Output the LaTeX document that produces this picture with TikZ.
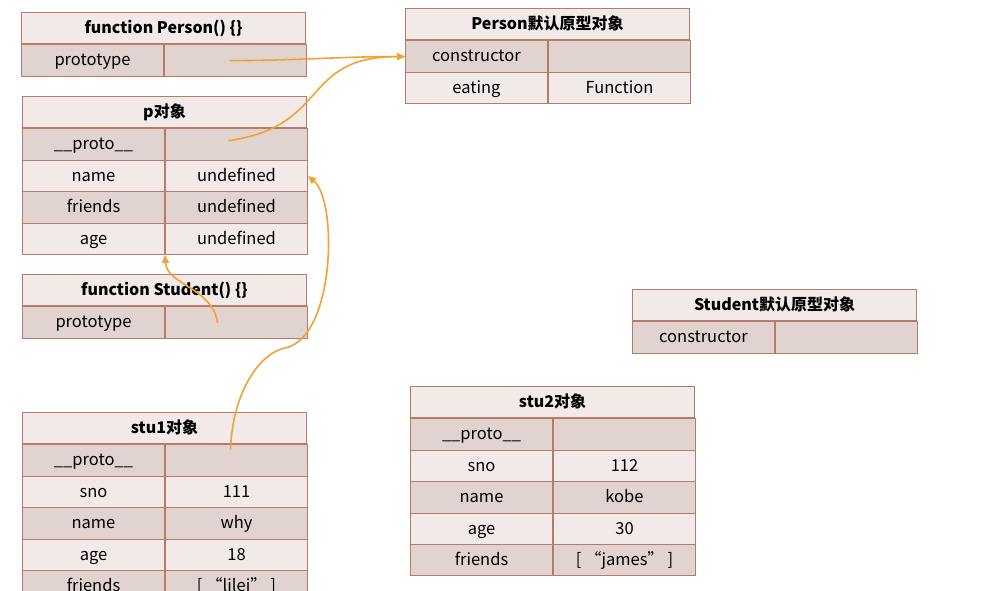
\documentclass[tikz,border=0pt]{standalone}
\usepackage{fontspec}
\setmainfont{Noto Sans CJK SC}
\usetikzlibrary{arrows.meta,calc,positioning}
\definecolor{cellline}{HTML}{B87B68}
\definecolor{celllight}{HTML}{F1EAE8}
\definecolor{celldark}{HTML}{E1D4D0}
\definecolor{linkorange}{HTML}{F0A232}
\tikzset{
  cell/.style={draw=cellline, line width=1pt, inner sep=0pt, anchor=north west,
    minimum height=31.4pt, text height=13pt, text depth=2.5pt,
    font=\fontsize{16.5}{19}\selectfont},
  headcell/.style={cell, fill=celllight, minimum width=284pt,
    font=\fontsize{16}{19}\selectfont\bfseries},
  halfcell/.style={cell, minimum width=142pt},
  link/.style={draw=linkorange, line width=1.6pt, -{Triangle[length=8pt,width=7pt]}}
}

% one object table: name, x, y, title, key/value/fill rows
\newcommand{\objtable}[5]{%
  \node[headcell] (#1) at (#2,#3) {#4};
  \foreach \k/\v/\col [count=\i] in {#5} {
    \node[halfcell, fill=\col] (#1-\i-k) at ($(#1.south west)+(0,{31.4*(\i-1)})$) {\k};
    \node[halfcell, fill=\col] (#1-\i-v) at (#1-\i-k.north east) {\v};
  }
}

\begin{document}
\begin{tikzpicture}[x=1pt,y=-1pt]
  \useasboundingbox (0,0) rectangle (984,590);
  \clip (0,0) rectangle (984,590);

  % the tables
  \objtable{person}{21}{12}{function Person() \{\}}{prototype//celldark}
  \objtable{personproto}{405}{8}{Person默认原型对象}{constructor//celldark, eating/Function/celllight}
  \objtable{p}{22}{96}{p对象}{\_\_proto\_\_//celldark, name/undefined/celllight,
    friends/undefined/celldark, age/undefined/celllight}
  \objtable{student}{22}{274}{function Student() \{\}}{prototype//celldark}
  \objtable{studentproto}{632}{289}{Student默认原型对象}{constructor//celldark}
  \objtable{stuone}{22}{412}{stu1对象}{\_\_proto\_\_//celldark, sno/111/celllight,
    name/why/celldark, age/18/celllight, friends/[ “lilei” ]/celldark}
  \objtable{stutwo}{410}{386}{stu2对象}{\_\_proto\_\_//celldark, sno/112/celllight,
    name/kobe/celldark, age/30/celllight, friends/[ “james” ]/celldark}

  % the links
  \draw[link] ([xshift=-6pt]person-1-v.center) to[out=0,in=180] (personproto-1-k.west);
  \draw[link] ([xshift=-8pt,yshift=4pt]p-1-v.center) .. controls +(102,-14) and +(-105,0) .. (personproto-1-k.west);
  \draw[link] ([xshift=-19pt]student-1-v.center) .. controls +(-5,-35) and +(2,30) .. (p-4-k.south east);
  \coordinate (stuonebend) at (285,348);
  \draw[link] ([xshift=-6pt,yshift=11pt]stuone-1-v.center) .. controls +(2,-58) and +(-25,5) .. (stuonebend)
    .. controls +(50,-10) and +(30,25) .. (p-2-v.east);
\end{tikzpicture}
\end{document}
